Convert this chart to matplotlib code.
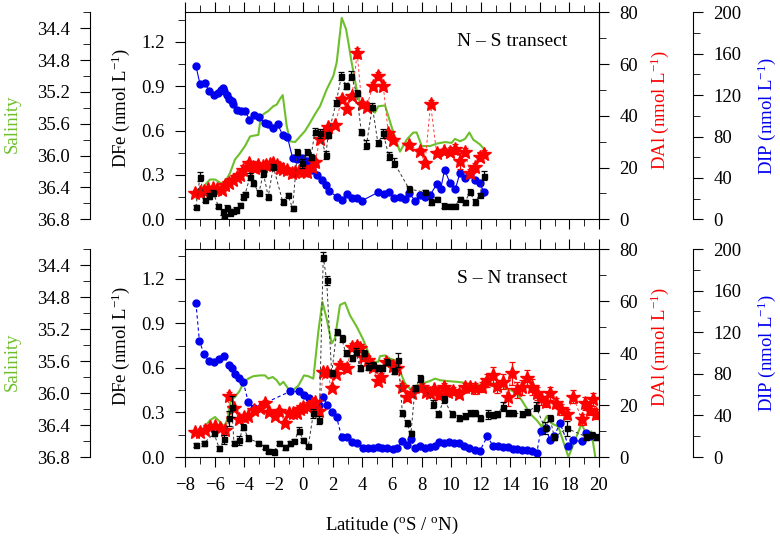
import matplotlib
matplotlib.use("Agg")
import matplotlib.pyplot as plt
from matplotlib.ticker import MultipleLocator, FormatStrFormatter

plt.rcParams['font.family'] = ['Liberation Serif', 'DejaVu Serif']
plt.rcParams['mathtext.fontset'] = 'custom'
plt.rcParams['mathtext.rm'] = 'Liberation Serif'
plt.rcParams['mathtext.it'] = 'Liberation Serif:italic'
plt.rcParams['font.size'] = 13.5

GREEN = '#6dbf2b'
RED = '#ff0000'
BLUE = '#0000ee'

# ---------------- N - S transect (top) ----------------
top_dfe_lat = [-7.26, -6.99, -6.65, -6.36, -6.09, -5.75, -5.45, -5.34, -5.18, -4.96, -4.77, -4.55, -4.28,
               -4.06, -3.94, -3.60, -3.38, -3.0, -2.70, -2.37, -2.03, -1.39, -1.05, -0.72, -0.40, -0.11,
               0.23, 0.52, 0.79, 1.13, 1.52, 1.69, 2.21, 2.58, 2.92, 3.26, 3.60, 3.93, 4.27, 4.67, 5.05,
               5.41, 5.78, 6.14, 7.16, 8.23, 8.64, 9.02, 9.52, 9.92, 10.26, 10.60, 10.94, 11.27, 11.61,
               11.95, 12.22]
top_dfe = [0.085, 0.288, 0.131, 0.158, 0.180, 0.090, 0.051, 0.022, 0.074, 0.041, 0.058, 0.063, 0.097,
           0.153, 0.169, 0.288, 0.244, 0.180, 0.311, 0.153, 0.356, 0.119, 0.164, 0.074, 0.458, 0.379,
           0.458, 0.424, 0.593, 0.582, 0.435, 0.571, 0.785, 0.970, 0.902, 0.970, 0.853, 0.589, 0.503,
           0.762, 0.514, 0.582, 0.428, 0.383, 0.205, 0.183, 0.115, 0.137, 0.092, 0.090, 0.090, 0.137,
           0.115, 0.187, 0.115, 0.164, 0.295]
top_dfe_err = [0.015, 0.03, 0.015, 0.02, 0.015, 0.015, 0.02, 0.015, 0.02, 0.015, 0.015, 0.02, 0.015,
               0.015, 0.015, 0.025, 0.02, 0.015, 0.025, 0.015, 0.015, 0.015, 0.015, 0.015, 0.02, 0.03,
               0.02, 0.02, 0.025, 0.03, 0.03, 0.02, 0.02, 0.025, 0.02, 0.03, 0.02, 0.02, 0.03,
               0.025, 0.02, 0.03, 0.025, 0.03, 0.02, 0.015, 0.02, 0.015, 0.015, 0.015, 0.015, 0.015,
               0.015, 0.015, 0.02, 0.015, 0.03]

top_dai_lat = [-7.32, -6.99, -6.72, -6.42, -6.13, -5.86, -5.52, -5.29, -5.0, -4.73, -4.50, -4.28, -4.06,
               -3.83, -3.65, -3.42, -3.27, -3.04, -2.75, -2.52, -2.25, -2.03, -1.80, -1.58, -1.35, -1.12,
               -0.78, -0.56, -0.27, 0.05, 0.23, 0.57, 0.79, 1.13, 1.40, 1.69, 2.14, 2.60, 2.94, 3.29,
               3.65, 3.95, 4.29, 4.69, 5.07, 5.41, 5.75, 6.09, 7.17, 7.89, 8.23, 8.61, 9.02, 9.52, 9.92,
               10.26, 10.60, 10.94, 11.27, 11.61, 11.95, 12.22]
top_dai = [10.3, 10.7, 11.0, 11.6, 12.0, 11.6, 11.3, 13.2, 14.1, 15.2, 16.2, 17.1, 19.0, 20.1, 21.6,
           20.3, 19.7, 21.0, 20.6, 21.0, 21.2, 21.6, 21.0, 19.7, 19.3, 19.0, 17.8, 18.4, 18.8, 18.6,
           18.4, 20.3, 22.2, 30.9, 33.2, 35.5, 36.4, 46.3, 42.6, 47.7, 64.3, 44.4, 43.5, 51.4, 55.3,
           51.6, 33.2, 30.6, 28.7, 26.5, 21.8, 44.5, 25.5, 26.5, 26.1, 27.1, 22.5, 26.1, 17.8, 20.3,
           24.2, 25.2]
top_dai_err = [0.8, 0.8, 0.8, 0.8, 0.8, 0.8, 0.8, 0.8, 0.8, 0.8, 0.8, 0.8, 0.8, 0.8, 0.8,
               0.8, 0.8, 1.0, 1.0, 1.2, 1.2, 1.0, 1.0, 0.8, 0.8, 0.8, 0.8, 0.8, 0.8, 0.8,
               0.8, 1.0, 1.0, 1.0, 1.0, 1.0, 1.0, 1.2, 1.2, 1.2, 2.0, 1.2, 1.2, 1.5, 1.5,
               1.5, 1.2, 1.2, 1.2, 1.2, 1.2, 1.5, 1.2, 1.2, 1.2, 2.0, 3.0, 1.5, 1.5, 1.5,
               1.5, 1.5]

top_dip_lat = [-7.26, -6.99, -6.65, -6.38, -6.06, -5.79, -5.57, -5.45, -5.34, -5.18, -5.0, -4.84, -4.73,
               -4.50, -4.21, -3.92, -3.65, -3.33, -3.02, -2.59, -2.36, -2.03, -1.73, -1.39, -1.08, -0.72,
               -0.40, -0.09, 0.27, 0.59, 0.91, 1.27, 1.54, 1.76, 2.26, 2.60, 2.94, 3.29, 3.61, 3.97,
               5.05, 5.46, 5.80, 6.16, 6.54, 6.86, 7.17, 7.56, 7.89, 8.23, 8.57, 9.02, 9.29, 9.56, 9.92,
               10.28, 10.60, 10.94, 11.27, 11.61, 11.95, 12.22]
top_dip = [148, 131, 132, 124, 120, 122, 125, 127, 124, 120, 116, 114, 111, 106, 105, 105, 96, 101,
           99, 93, 92, 88, 92, 81, 80, 59, 58, 59, 56, 48, 43, 38, 33, 27, 22, 19, 24, 21, 21, 18,
           26, 24, 26, 21, 22, 20, 25, 18, 23, 22, 23, 34, 29, 48, 35, 29, 45, 40, 44, 38, 35, 26]

top_sal_lat = [-7.21, -6.65, -6.31, -5.97, -5.63, -5.34, -4.96, -4.62, -4.28, -3.94, -3.60, -3.38, -3.04,
               -2.93, -2.70, -2.37, -2.03, -1.80, -1.58, -1.39, -1.12, -0.90, -0.56, -0.22, 0.12, 0.45,
               0.79, 1.13, 1.58, 2.03, 2.26, 2.60, 2.89, 3.05, 3.27, 3.61, 3.84, 4.29, 4.63, 4.85, 5.08,
               5.53, 6.09, 6.54, 6.99, 7.44, 7.67, 8.01, 8.57, 9.02, 9.58, 10.03, 10.26, 10.60, 10.94,
               11.23, 11.50, 11.95, 12.29]
top_sal = [36.54, 36.37, 36.30, 36.30, 36.34, 36.35, 36.22, 36.05, 35.97, 35.88, 35.76, 35.75, 35.74,
           35.59, 35.48, 35.44, 35.38, 35.36, 35.29, 35.24, 35.63, 35.82, 35.83, 35.76, 35.69, 35.59,
           35.48, 35.38, 35.17, 35.00, 34.83, 34.27, 34.41, 34.58, 34.83, 35.17, 35.34, 35.38, 35.43,
           35.46, 35.38, 35.37, 35.71, 35.95, 35.80, 35.71, 35.71, 35.88, 35.88, 35.85, 35.83, 35.84,
           35.79, 35.82, 35.79, 35.71, 35.80, 35.86, 35.93]

# ---------------- S - N transect (bottom) ----------------
bot_dfe_lat = [-7.26, -6.72, -6.04, -5.68, -5.34, -5.0, -4.84, -4.69, -4.33, -4.06, -3.72, -3.04, -2.59,
               -2.37, -1.98, -1.62, -1.24, -0.90, -0.61, -0.29, 0.0, 0.34, 0.68, 1.08, 1.35, 1.58, 1.92,
               2.26, 2.60, 2.87, 3.27, 3.56, 3.84, 4.11, 4.40, 4.74, 5.07, 5.30, 5.64, 6.14, 6.43, 6.70,
               6.99, 7.28, 7.56, 7.89, 8.79, 9.13, 9.52, 10.04, 10.55, 10.94, 11.27, 11.61, 11.95, 12.47,
               12.85, 13.12, 13.49, 13.82, 14.16, 14.77, 15.15, 15.74, 16.35, 16.69, 16.98, 17.82, 19.12,
               19.50, 19.80]
bot_dfe = [0.081, 0.092, 0.159, 0.058, 0.119, 0.260, 0.339, 0.096, 0.114, 0.204, 0.126, 0.096, 0.069,
           0.042, 0.036, 0.096, 0.065, 0.092, 0.108, 0.177, 0.114, 0.074, 0.294, 0.249, 1.348, 1.191,
           0.563, 0.843, 0.799, 0.698, 0.664, 0.709, 0.597, 0.698, 0.608, 0.619, 0.597, 0.597, 0.641,
           0.581, 0.653, 0.298, 0.227, 0.159, 0.462, 0.530, 0.357, 0.287, 0.388, 0.287, 0.260, 0.278,
           0.294, 0.294, 0.265, 0.287, 0.283, 0.289, 0.339, 0.294, 0.298, 0.289, 0.305, 0.339, 0.193,
           0.260, 0.133, 0.193, 0.137, 0.148, 0.133]
bot_dfe_err = [0.015, 0.015, 0.015, 0.015, 0.03, 0.05, 0.07, 0.015, 0.03, 0.02, 0.02, 0.015, 0.015,
               0.015, 0.015, 0.015, 0.015, 0.015, 0.015, 0.025, 0.015, 0.015, 0.03, 0.025, 0.03, 0.03,
               0.02, 0.02, 0.025, 0.02, 0.02, 0.025, 0.02, 0.02, 0.025, 0.02, 0.02, 0.02, 0.02,
               0.02, 0.045, 0.02, 0.02, 0.015, 0.02, 0.025, 0.03, 0.02, 0.025, 0.02, 0.02, 0.02,
               0.02, 0.02, 0.02, 0.03, 0.02, 0.02, 0.03, 0.02, 0.02, 0.02, 0.02, 0.03, 0.04,
               0.02, 0.02, 0.05, 0.02, 0.02, 0.02]

bot_dai_lat = [-7.32, -6.99, -6.65, -6.31, -5.97, -5.63, -5.29, -5.0, -4.69, -4.33, -4.01, -3.72, -3.33,
               -2.93, -2.59, -2.30, -1.91, -1.62, -1.24, -0.95, -0.68, -0.45, -0.22, 0.0, 0.30, 0.57,
               0.79, 1.08, 1.35, 1.58, 1.92, 2.21, 2.48, 2.94, 3.27, 3.61, 3.84, 4.06, 4.40, 4.69, 5.07,
               5.26, 5.59, 6.09, 6.32, 6.66, 7.04, 7.37, 8.01, 8.30, 8.57, 8.86, 9.20, 9.52, 9.81, 10.15,
               10.55, 10.94, 11.27, 11.61, 12.07, 12.45, 12.81, 13.12, 13.49, 13.82, 14.10, 14.43, 14.77,
               15.11, 15.45, 15.79, 16.06, 16.41, 16.69, 17.07, 17.41, 17.82, 18.26, 18.83, 19.05, 19.39,
               19.57, 19.80]
bot_dai = [9.7, 9.7, 10.4, 11.4, 11.9, 11.0, 10.4, 23.6, 18.7, 14.5, 15.5, 15.8, 18.1, 18.7, 20.9,
           17.4, 15.8, 17.7, 13.2, 17.0, 16.8, 17.0, 18.3, 19.3, 19.3, 20.4, 21.0, 17.8, 32.8, 32.8,
           26.4, 31.8, 35.4, 34.1, 42.4, 42.7, 41.8, 38.6, 37.3, 34.5, 29.2, 30.9, 36.7, 35.1, 34.1,
           27.0, 23.2, 24.5, 27.0, 25.1, 24.7, 26.0, 23.8, 27.0, 25.1, 25.5, 24.2, 27.0, 26.8, 26.4,
           27.0, 29.6, 31.5, 27.3, 29.0, 23.2, 32.2, 25.8, 26.8, 30.3, 27.0, 24.5, 22.6, 21.3, 24.5,
           20.7, 18.3, 16.5, 23.2, 14.5, 20.6, 18.1, 22.2, 16.5]
bot_dai_err = [0.8, 0.8, 0.8, 0.8, 0.8, 0.8, 0.8, 1.5, 1.0, 1.0, 1.0, 1.0, 1.0, 1.0, 1.0,
               1.0, 1.0, 1.0, 1.0, 1.0, 1.0, 1.0, 1.0, 1.0, 1.0, 1.0, 1.0, 1.0, 1.2, 1.2,
               1.2, 1.2, 1.5, 1.5, 1.5, 1.5, 1.5, 1.5, 1.5, 1.5, 1.5, 1.5, 1.5, 1.5, 1.5,
               1.5, 1.5, 1.5, 1.5, 1.5, 1.5, 1.5, 1.5, 1.5, 1.5, 1.5, 1.5, 1.5, 1.5, 2.0,
               2.0, 2.5, 3.0, 2.5, 3.0, 3.5, 4.5, 3.0, 3.0, 3.0, 3.0, 2.5, 2.5, 2.0, 2.5,
               2.0, 2.0, 2.0, 2.5, 2.0, 2.5, 2.0, 2.5, 2.0]

bot_dip_lat = [-7.26, -7.03, -6.72, -6.36, -6.04, -5.68, -5.34, -5.0, -4.84, -4.60, -4.33, -4.06, -3.72,
               -3.33, -0.90, -0.27, 0.07, 0.39, 0.68, 1.08, 1.31, 1.63, 1.92, 2.26, 2.60, 2.94, 3.27,
               3.61, 4.06, 4.40, 4.74, 5.08, 5.30, 5.64, 6.05, 6.36, 6.70, 6.99, 7.26, 7.56, 7.89, 8.23,
               8.57, 8.91, 9.20, 9.52, 9.86, 10.19, 10.55, 10.89, 11.23, 11.61, 11.95, 12.45, 12.81,
               13.15, 13.49, 13.82, 14.16, 14.43, 14.77, 15.11, 15.45, 15.79, 16.06, 16.41, 16.69,
               16.98, 17.36, 17.93, 18.26, 18.83, 19.12, 19.39]
bot_dip = [148, 112, 99, 92, 91, 94, 97, 88, 86, 80, 76, 72, 53, 47, 63, 63, 60, 57, 53, 50, 58, 50,
           43, 38, 19, 19, 14, 13, 9, 9, 9, 10, 9, 9, 8, 9, 15, 12, 17, 9, 11, 9, 10, 11, 14, 13, 14,
           13, 13, 11, 9, 7, 6, 20, 11, 11, 10, 10, 8, 8, 7, 7, 6, 4, 25, 28, 16, 20, 33, 11, 16, 15,
           23, 20]

bot_sal_lat = [-7.10, -6.65, -6.31, -5.97, -5.63, -5.34, -5.11, -4.91, -4.62, -4.33, -4.06, -3.72, -3.38,
               -2.93, -2.59, -2.37, -2.07, -1.80, -1.58, -1.35, -1.12, -0.90, -0.68, -0.34, 0.05, 0.34,
               0.68, 1.02, 1.29, 1.58, 1.92, 2.14, 2.48, 2.82, 3.16, 3.61, 4.02, 4.29, 4.63, 5.07, 5.19,
               5.53, 5.86, 6.20, 6.54, 6.88, 7.22, 7.56, 7.89, 8.23, 8.57, 8.91, 9.25, 9.70, 10.38,
               10.82, 11.27, 11.84, 12.29, 12.85, 13.30, 13.76, 14.10, 14.43, 14.77, 15.11, 15.45,
               15.79, 16.12, 16.46, 16.80, 17.25, 17.93, 18.83, 19.16, 19.48, 19.75]
bot_sal = [36.55, 36.42, 36.34, 36.30, 36.36, 36.42, 36.32, 36.09, 36.05, 35.98, 35.88, 35.82, 35.79,
           35.78, 35.78, 35.82, 35.80, 35.84, 35.90, 35.86, 35.92, 35.98, 35.96, 35.91, 35.78, 35.79,
           35.82, 35.23, 34.86, 35.07, 35.38, 35.32, 34.90, 34.87, 35.03, 35.17, 35.32, 35.44, 35.61,
           35.61, 35.54, 35.53, 35.57, 35.59, 35.73, 35.88, 35.95, 35.92, 35.89, 35.87, 35.85, 35.82,
           35.84, 35.85, 35.86, 35.87, 35.89, 35.90, 35.89, 35.88, 35.90, 35.95, 35.97, 36.01, 36.09,
           36.19, 36.28, 36.34, 36.42, 36.29, 36.38, 36.42, 36.80, 36.38, 36.54, 36.48, 36.80]


def style_y(axis, major, minor, fmt):
    axis.set_major_locator(MultipleLocator(major))
    axis.set_minor_locator(MultipleLocator(minor))
    axis.set_major_formatter(FormatStrFormatter(fmt))


def draw_panel(ax, dfe_lat, dfe, dfe_err, dai_lat, dai, dai_err, dip_lat, dip, sal_lat, sal,
               dip_ls, title, show_xlabels):
    sal_ax = ax.twinx()
    dip_ax = ax.twinx()
    dai_ax = ax.twinx()
    for z, a in enumerate([sal_ax, dip_ax, dai_ax, ax]):
        a.set_zorder(z + 1)
        a.patch.set_visible(False)

    # host: DFe
    ax.set_xlim(-8, 20)
    ax.set_ylim(0, 1.4)
    ax.xaxis.set_major_locator(MultipleLocator(2))
    ax.xaxis.set_minor_locator(MultipleLocator(1))
    style_y(ax.yaxis, 0.3, 0.15, '%.1f')
    ax.tick_params(which='both', direction='out', top=True, right=False, pad=7,
                   labelbottom=show_xlabels)
    ax.tick_params(which='major', length=7.5)
    ax.tick_params(which='minor', length=5)
    ax.set_ylabel('DFe (nmol L$^{-1}$)')
    ax.yaxis.label.set_va('center')
    ax.yaxis.set_label_coords(-0.155, 0.535)

    ax.plot(dfe_lat, dfe, color='#333333', lw=0.7, dashes=(3, 2.5), zorder=2)
    ax.errorbar(dfe_lat, dfe, yerr=dfe_err, fmt='none', ecolor='black', elinewidth=0.9,
                capsize=2.5, capthick=0.9, zorder=3)
    ax.plot(dfe_lat, dfe, 's', color='black', ms=3.6, zorder=4)
    ax.text(0.923, 0.857, title, transform=ax.transAxes, ha='right', va='center', fontsize=14)

    # salinity, inverted, spine offset to the left
    sal_ax.spines['left'].set_position(('axes', -95 / 414))
    sal_ax.spines['left'].set_visible(True)
    for s in ['right', 'top', 'bottom']:
        sal_ax.spines[s].set_visible(False)
    sal_ax.yaxis.set_ticks_position('left')
    sal_ax.yaxis.set_label_position('left')
    sal_ax.set_ylim(36.8, 34.2)
    style_y(sal_ax.yaxis, 0.4, 0.2, '%.1f')
    sal_ax.tick_params(which='both', direction='out', pad=7)
    sal_ax.tick_params(which='major', length=7.5)
    sal_ax.tick_params(which='minor', length=5)
    sal_ax.set_ylabel('Salinity', color=GREEN)
    sal_ax.yaxis.label.set_va('center')
    sal_ax.yaxis.set_label_coords(-0.418, 0.46)
    sal_ax.plot(sal_lat, sal, color=GREEN, lw=1.5)

    # DAl on the right spine
    for s in ['left', 'top', 'bottom']:
        dai_ax.spines[s].set_visible(False)
    dai_ax.set_ylim(0, 80)
    style_y(dai_ax.yaxis, 20, 10, '%d')
    dai_ax.tick_params(which='both', direction='out', pad=7)
    dai_ax.tick_params(which='major', length=7.5)
    dai_ax.tick_params(which='minor', length=5)
    dai_ax.set_ylabel('DAl (nmol L$^{-1}$)', color=RED)
    dai_ax.yaxis.label.set_va('center')
    dai_ax.yaxis.set_label_coords(1.147, 0.53)
    dai_ax.plot(dai_lat, dai, color='#ff4040', lw=0.7, dashes=(3, 2.5))
    dai_ax.errorbar(dai_lat, dai, yerr=dai_err, fmt='none', ecolor=RED, elinewidth=0.9,
                    capsize=2.5, capthick=0.9)
    dai_ax.plot(dai_lat, dai, '*', color=RED, ms=10, mec=RED)

    # DIP, spine offset to the right
    dip_ax.spines['right'].set_position(('axes', 1 + 94 / 414))
    for s in ['left', 'top', 'bottom']:
        dip_ax.spines[s].set_visible(False)
    dip_ax.set_ylim(0, 200)
    style_y(dip_ax.yaxis, 40, 20, '%d')
    dip_ax.tick_params(which='both', direction='out', pad=7)
    dip_ax.tick_params(which='major', length=7.5)
    dip_ax.tick_params(which='minor', length=5)
    dip_ax.set_ylabel('DIP (nmol L$^{-1}$)', color=BLUE)
    dip_ax.yaxis.label.set_va('center')
    dip_ax.yaxis.set_label_coords(1.406, 0.5)
    if dip_ls == '-':
        dip_ax.plot(dip_lat, dip, color=BLUE, lw=0.8)
    else:
        dip_ax.plot(dip_lat, dip, color=BLUE, lw=0.8, dashes=(3, 2.5))
    dip_ax.plot(dip_lat, dip, 'o', color=BLUE, ms=5)


fig = plt.figure(figsize=(7.8, 5.36), dpi=100)
ax_top = fig.add_axes([185 / 780, 1 - 219.3 / 536, 414 / 780, 207 / 536])
ax_bot = fig.add_axes([185 / 780, 1 - 457 / 536, 414 / 780, 208 / 536])

draw_panel(ax_top, top_dfe_lat, top_dfe, top_dfe_err, top_dai_lat, top_dai, top_dai_err,
           top_dip_lat, top_dip, top_sal_lat, top_sal, '-', 'N – S transect', False)
draw_panel(ax_bot, bot_dfe_lat, bot_dfe, bot_dfe_err, bot_dai_lat, bot_dai, bot_dai_err,
           bot_dip_lat, bot_dip, bot_sal_lat, bot_sal, '--', 'S – N transect', True)

ax_bot.set_xlabel(r'Latitude ($^{\rm o}$S / $^{\rm o}$N)', labelpad=15)

fig.savefig('out.png', dpi=100)
